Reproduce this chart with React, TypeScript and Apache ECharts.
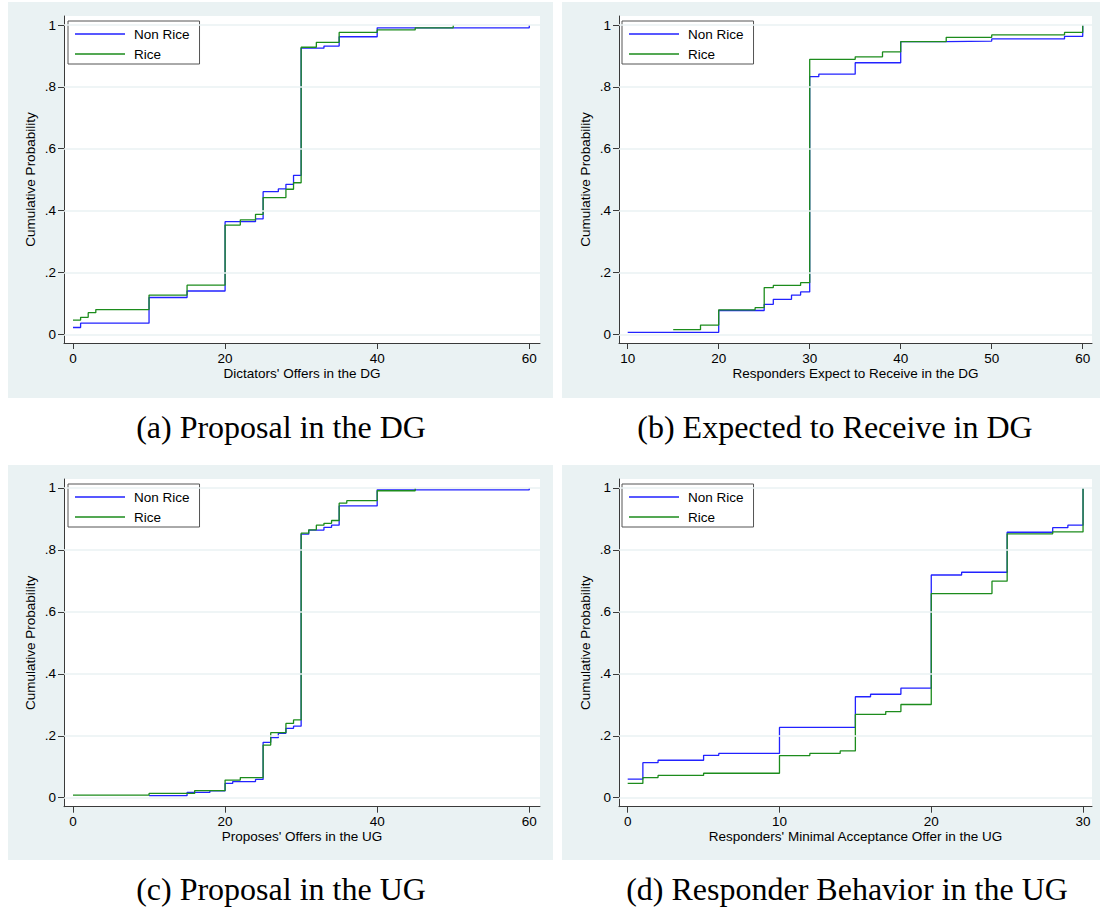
import React, { useEffect, useRef } from 'react';
import * as echarts from 'echarts';

// ---------- data ----------
const seriesNames = ['Non Rice', 'Rice'];
const yTicks = [0, 0.2, 0.4, 0.6, 0.8, 1];
const xTicksA = [0, 20, 40, 60];
const xTicksB = [10, 20, 30, 40, 50, 60];
const xTicksC = [0, 20, 40, 60];
const xTicksD = [0, 10, 20, 30];

const yTitle = 'Cumulative Probability';
const xTitles = [
  "Dictators' Offers in the DG",
  'Responders Expect to Receive in the DG',
  "Proposes' Offers in the UG",
  "Responders' Minimal Acceptance Offer in the UG",
];
const captions = [
  '(a) Proposal in the DG',
  '(b) Expected to Receive in DG',
  '(c) Proposal in the UG',
  '(d) Responder Behavior in the UG',
];

// (a) Proposal in the DG
const aNonRice = [
  [0, 0.022], [1, 0.036], [10, 0.119], [15, 0.14], [20, 0.364], [24, 0.373],
  [25, 0.461], [27, 0.47], [28, 0.485], [29, 0.514], [30, 0.925], [33, 0.932],
  [35, 0.962], [40, 0.991], [60, 1.0],
];
const aRice = [
  [0, 0.046], [1, 0.055], [2, 0.07], [3, 0.08], [10, 0.127], [15, 0.159],
  [20, 0.353], [22, 0.37], [24, 0.388], [25, 0.442], [28, 0.469], [29, 0.49],
  [30, 0.928], [32, 0.944], [35, 0.976], [40, 0.984], [45, 0.991], [50, 1.0],
];

// (b) Expected to Receive in DG
const bNonRice = [
  [10, 0.0065], [20, 0.077], [25, 0.097], [26, 0.113], [28, 0.127], [29, 0.137],
  [30, 0.833], [31, 0.841], [35, 0.878], [40, 0.946], [45, 0.948], [50, 0.955],
  [58, 0.963], [60, 1.0],
];
const bRice = [
  [15, 0.015], [18, 0.03], [20, 0.079], [24, 0.086], [25, 0.151], [26, 0.158],
  [29, 0.167], [30, 0.889], [35, 0.897], [38, 0.913], [40, 0.946], [45, 0.96],
  [50, 0.968], [58, 0.976], [60, 1.0],
];

// (c) Proposal in the UG
const cNonRice = [
  [10, 0.0065], [15, 0.017], [18, 0.022], [20, 0.046], [21, 0.052], [24, 0.059],
  [25, 0.179], [26, 0.194], [27, 0.208], [28, 0.224], [29, 0.231], [30, 0.851],
  [31, 0.864], [33, 0.873], [34, 0.88], [35, 0.942], [40, 0.994], [60, 1.0],
];
const cRice = [
  [0, 0.0086], [10, 0.014], [16, 0.023], [20, 0.057], [22, 0.065], [25, 0.17],
  [26, 0.21], [28, 0.24], [29, 0.251], [30, 0.854], [31, 0.865], [32, 0.88],
  [33, 0.886], [34, 0.895], [35, 0.951], [36, 0.959], [40, 0.991], [45, 1.0],
];

// (d) Responder Behavior in the UG
const dNonRice = [
  [0, 0.06], [1, 0.113], [2, 0.121], [5, 0.137], [6, 0.143], [10, 0.227],
  [15, 0.326], [16, 0.334], [18, 0.354], [20, 0.719], [22, 0.728], [25, 0.857],
  [28, 0.872], [29, 0.88], [30, 1.0],
];
const dRice = [
  [0, 0.046], [1, 0.065], [2, 0.072], [5, 0.079], [10, 0.136], [12, 0.143],
  [14, 0.151], [15, 0.269], [17, 0.278], [18, 0.301], [20, 0.659], [24, 0.699],
  [25, 0.852], [28, 0.858], [30, 1.0],
];

// ---------- layout ----------
const panels = [
  { grid: { left: 64, top: 16, width: 476, height: 327 }, xMin: -1.183, xMax: 61.41, yMin: -0.0281, yMax: 1.0291,
    bg: [8, 2, 545, 396], legend: { left: 68, top: 21 }, cap: [281, 427], xTicks: xTicksA, data: [aNonRice, aRice] },
  { grid: { left: 619, top: 16, width: 473, height: 327 }, xMin: 9.044, xMax: 61.02, yMin: -0.0281, yMax: 1.0291,
    bg: [562, 2, 538, 396], legend: { left: 622, top: 21 }, cap: [835, 427], xTicks: xTicksB, data: [bNonRice, bRice] },
  { grid: { left: 64, top: 479, width: 476, height: 327.7 }, xMin: -1.183, xMax: 61.41, yMin: -0.029, yMax: 1.029,
    bg: [8, 465, 545, 395], legend: { left: 68, top: 484 }, cap: [281, 889], xTicks: xTicksC, data: [cNonRice, cRice] },
  { grid: { left: 619, top: 479, width: 473, height: 327.7 }, xMin: -0.573, xMax: 30.59, yMin: -0.029, yMax: 1.029,
    bg: [562, 465, 538, 395], legend: { left: 622, top: 484 }, cap: [847, 889], xTicks: xTicksD, data: [dNonRice, dRice] },
];

const BLUE = '#2222ff';
const GREEN = '#1c8c1c';
const AXIS = '#3a3a3a';
const GRIDC = '#eaf2f3';
const BG = '#eaf2f3';
const FONT = '"Liberation Sans", Arial, sans-serif';
// legend sample: a horizontal bar spanning the full icon box (tiny corner anchors keep the box 50x14)
const LEGEND_LINE = 'path://M0,0L0.01,0L0.01,0.01ZM50,14L49.99,14L49.99,13.99ZM0,6.2L50,6.2L50,7.8L0,7.8Z';

function fmtY(v: number) {
  if (v === 0) return '0';
  if (v === 1) return '1';
  return String(v).replace(/^0/, '');
}

export default function App() {
  const ref = useRef<HTMLDivElement>(null);
  useEffect(() => {
    if (!ref.current) return;
    const chart = echarts.init(ref.current, undefined, { renderer: 'svg' });
    const grids: any[] = [];
    const xAxes: any[] = [];
    const yAxes: any[] = [];
    const legends: any[] = [];
    const series: any[] = [];
    const graphics: any[] = [];
    panels.forEach((p, i) => {
      grids.push({
        ...p.grid, show: true, backgroundColor: '#ffffff', borderWidth: 0,
        containLabel: false, outerBoundsMode: 'none',
      });
      xAxes.push({
        type: 'value', gridIndex: i, min: p.xMin, max: p.xMax,
        name: xTitles[i], nameLocation: 'middle', nameGap: 23,
        nameTextStyle: { fontSize: 13.5, color: '#000', fontFamily: FONT },
        axisLine: { show: true, onZero: false, lineStyle: { color: AXIS, width: 1 } },
        axisTick: { show: true, length: 6, inside: false, customValues: p.xTicks, lineStyle: { color: AXIS } },
        axisLabel: { show: true, customValues: p.xTicks, margin: 8, fontSize: 13.5, color: '#000', fontFamily: FONT },
        splitLine: { show: false },
      });
      yAxes.push({
        type: 'value', gridIndex: i, min: p.yMin, max: p.yMax,
        name: yTitle, nameLocation: 'middle', nameGap: 27, nameRotate: 90,
        nameTextStyle: { fontSize: 13.5, color: '#000', fontFamily: FONT },
        axisLine: { show: true, onZero: false, lineStyle: { color: AXIS, width: 1 } },
        axisTick: { show: true, length: 6, inside: false, customValues: yTicks, lineStyle: { color: AXIS } },
        axisLabel: { show: true, customValues: yTicks, margin: 8, fontSize: 13.5, color: '#000', fontFamily: FONT, formatter: fmtY },
        splitLine: { show: false },
      });
      legends.push({
        show: true, orient: 'vertical', left: p.legend.left, top: p.legend.top,
        data: seriesNames.map((n) => ({ name: n, icon: LEGEND_LINE })),
        itemWidth: 50, itemHeight: 14, itemGap: 6,
        padding: [6, 10, 3, 7], backgroundColor: '#ffffff', borderColor: '#555', borderWidth: 1, borderRadius: 0,
        textStyle: { fontSize: 13.5, color: '#000', fontFamily: FONT, padding: [0, 0, 0, 4] },
        selectedMode: false,
      });
      series.push({
        type: 'line', name: '__grid' + i, xAxisIndex: i, yAxisIndex: i, data: [], silent: true, z: 1,
        markLine: {
          silent: true, symbol: ['none', 'none'], label: { show: false },
          lineStyle: { color: GRIDC, type: 'solid', width: 1.5 },
          data: yTicks.map((v) => ({ yAxis: v })),
        },
      });
      p.data.forEach((d, k) => {
        series.push({
          type: 'line', name: seriesNames[k], xAxisIndex: i, yAxisIndex: i,
          data: d, step: 'end', symbol: 'none', showSymbol: false, z: 3 + k,
          color: k === 0 ? BLUE : GREEN,
          itemStyle: { color: k === 0 ? BLUE : GREEN },
          lineStyle: { color: k === 0 ? BLUE : GREEN, width: 1.3 },
        });
      });
      graphics.push({
        type: 'rect', z: -10, silent: true,
        shape: { x: p.bg[0], y: p.bg[1], width: p.bg[2], height: p.bg[3] },
        style: { fill: BG },
      });
      graphics.push({
        type: 'text', z: 10, silent: true, x: p.cap[0], y: p.cap[1],
        style: {
          text: captions[i], fill: '#000', fontSize: 32, fontFamily: '"Liberation Serif", "Times New Roman", serif',
          align: 'center', verticalAlign: 'middle',
        },
      });
    });
    chart.setOption({
      animation: false,
      backgroundColor: '#ffffff',
      textStyle: { fontFamily: FONT },
      grid: grids,
      xAxis: xAxes,
      yAxis: yAxes,
      legend: legends,
      series,
      graphic: graphics,
    });
    return () => chart.dispose();
  }, []);
  return (
    <div
      ref={ref}
      style={{ position: 'absolute', left: 0, top: 0, width: 1102, height: 907, background: '#fff' }}
    />
  );
}
